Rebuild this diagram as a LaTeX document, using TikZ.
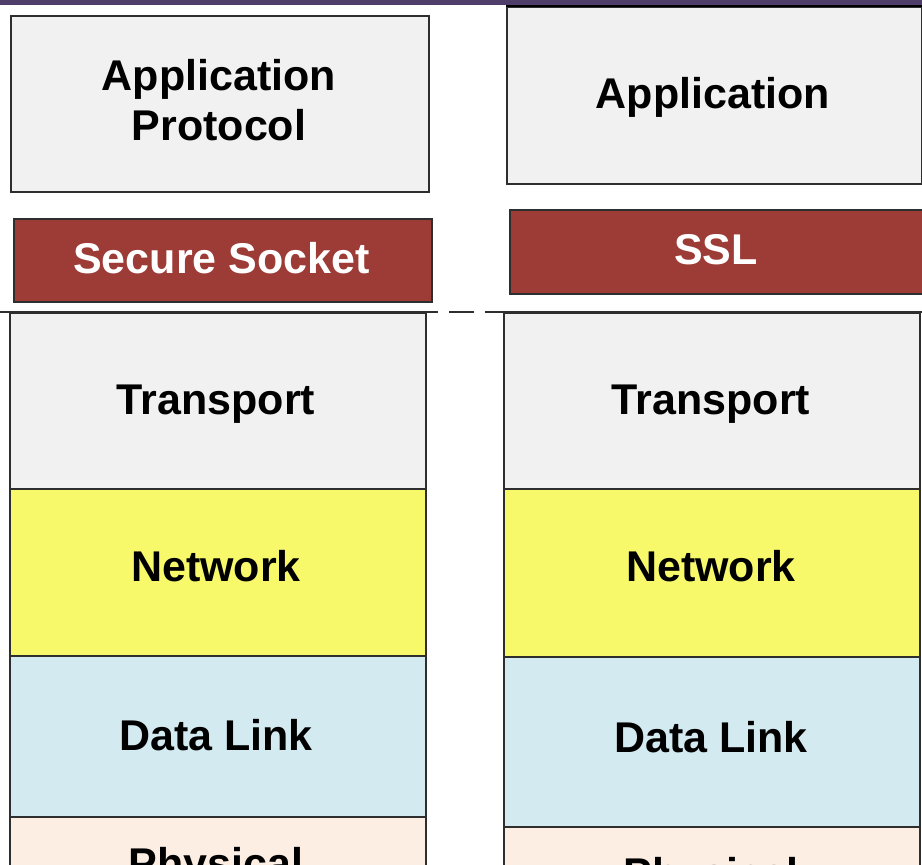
\documentclass[tikz,border=0pt]{standalone}
\usepackage{fontspec}
\setmainfont{Liberation Sans}
\begin{document}
\begin{tikzpicture}[x=1pt,y=-1pt,
  layer/.style={draw=black!82,line width=1.8pt,anchor=north west,inner sep=0pt,
    rectangle},
  lbl/.style={anchor=base,inner sep=0pt,font=\fontsize{43}{50}\selectfont\bfseries,
    align=center},
  grey/.style={fill=boxgrey},
  sslbox/.style={fill=sslred},
]
\definecolor{boxgrey}{HTML}{F1F1F1}
\definecolor{sslred}{HTML}{9D3C36}
\definecolor{netyellow}{HTML}{F7F96B}
\definecolor{linkblue}{HTML}{D3EAF0}
\definecolor{physpeach}{HTML}{FDEEE3}
\definecolor{barpurple}{HTML}{4F3E69}
\useasboundingbox (0,0) rectangle (922,865);
\clip (0,0) rectangle (922,865);

% title bar
\fill[barpurple] (0,0) rectangle (922,4.5);

% upper layers
\node[layer,grey,minimum width=418pt,minimum height=176pt] (appL) at (10,15) {};
\node[layer,grey,minimum width=415pt,minimum height=177pt] (appR) at (506,6) {};
\draw[black,line width=2.6pt] (appR.north west) -- (appR.north east);
\node[layer,sslbox,minimum width=418pt,minimum height=83pt] (ssL) at (13,218) {};
\node[layer,sslbox,minimum width=430pt,minimum height=84pt] (ssR) at (509,209) {};

% separator between upper and lower layers
\coordinate (sepA) at (0,312);
\coordinate (sepB) at (922,312);
\draw[black!82,line width=1.8pt,dash pattern=on 438pt off 11pt on 25pt off 11pt on 700pt]
  (sepA) -- (sepB);

% lower stack, left
\node[layer,grey,minimum width=416pt,minimum height=176pt] (trL) at (9,312) {};
\node[layer,fill=netyellow,minimum width=416pt,minimum height=167pt] (nwL) at (9,488) {};
\node[layer,fill=linkblue,minimum width=416pt,minimum height=161pt] (dlL) at (9,655) {};
\node[layer,fill=physpeach,minimum width=416pt,minimum height=120pt] (phL) at (9,816) {};

% lower stack, right
\node[layer,grey,minimum width=416pt,minimum height=176pt] (trR) at (503,312) {};
\node[layer,fill=netyellow,minimum width=416pt,minimum height=168pt] (nwR) at (503,488) {};
\node[layer,fill=linkblue,minimum width=416pt,minimum height=170pt] (dlR) at (503,656) {};
\node[layer,fill=physpeach,minimum width=416pt,minimum height=120pt] (phR) at (503,826) {};

% labels
\node[lbl] (tAppL) at (219,140) {Application\\Protocol};
\node[lbl] (tAppR) at (713,108) {Application};
\node[lbl,text=white] (tSSL) at (221.5,273) {Secure Socket};
\node[lbl,text=white] (tSSR) at (716,264) {SSL};
\node[lbl] (tTrL) at (216,414) {Transport};
\node[lbl] (tTrR) at (711,414) {Transport};
\node[lbl] (tNwL) at (216,581) {Network};
\node[lbl] (tNwR) at (711,581) {Network};
\node[lbl] (tDlL) at (216,750) {Data Link};
\node[lbl] (tDlR) at (711,752) {Data Link};
\node[lbl] (tPhL) at (216,878) {Physical};
\node[lbl] (tPhR) at (711,888) {Physical};
\end{tikzpicture}
\end{document}
